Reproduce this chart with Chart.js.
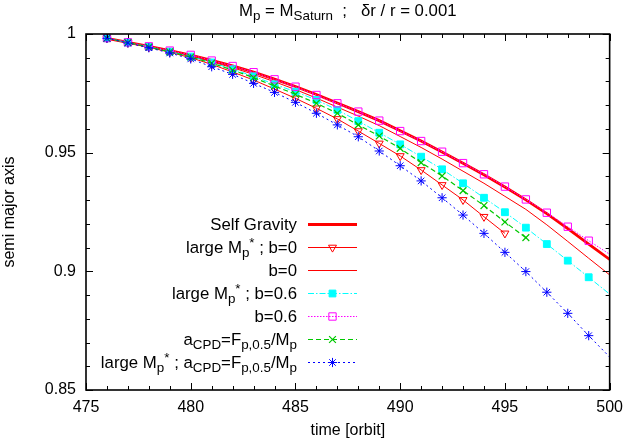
<!DOCTYPE html>
<html>
<head>
<meta charset="utf-8">
<script src="https://cdn.jsdelivr.net/npm/chart.js@4/dist/chart.umd.min.js"></script>
<style>
  html, body { margin: 0; padding: 0; background: #fff; }
  canvas { display: block; }
</style>
</head>
<body>
<canvas id="sma_chart" width="631" height="442" style="width:631px;height:442px"></canvas>
<script>
// orbit numbers (x) and semi major axis, one array per curve
const orbits = [476, 477, 478, 479, 480, 481, 482, 483, 484, 485, 486, 487, 488,
                489, 490, 491, 492, 493, 494, 495, 496, 497, 498, 499, 500];

const selfGravity = [0.9982, 0.9965, 0.9948, 0.9930, 0.9911, 0.9889, 0.9866, 0.9840, 0.9810, 0.9779,
                     0.9745, 0.9709, 0.9673, 0.9635, 0.9592, 0.9549, 0.9503, 0.9455, 0.9407, 0.9355,
                     0.9301, 0.9243, 0.9180, 0.9115, 0.9050];
const largeB0 = [0.9982, 0.9963, 0.9944, 0.9923, 0.9900, 0.9872, 0.9840, 0.9806, 0.9768, 0.9729,
                 0.9687, 0.9642, 0.9591, 0.9539, 0.9486, 0.9427, 0.9364, 0.9301, 0.9230, 0.9160];
const b0 = [0.9981, 0.9963, 0.9945, 0.9926, 0.9906, 0.9882, 0.9858, 0.9830, 0.9799, 0.9766,
            0.9730, 0.9692, 0.9654, 0.9614, 0.9568, 0.9522, 0.9473, 0.9422, 0.9371, 0.9316,
            0.9261, 0.9196, 0.9126, 0.9055, 0.8985];
const largeB06 = [0.9982, 0.9964, 0.9946, 0.9926, 0.9905, 0.9880, 0.9852, 0.9822, 0.9788, 0.9757,
                  0.9722, 0.9680, 0.9633, 0.9584, 0.9535, 0.9483, 0.9430, 0.9371, 0.9310, 0.9249,
                  0.9184, 0.9115, 0.9045, 0.8975, 0.8904];
const b06 = [0.9983, 0.9965, 0.9948, 0.9930, 0.9912, 0.9888, 0.9865, 0.9839, 0.9809, 0.9778,
             0.9743, 0.9708, 0.9673, 0.9635, 0.9591, 0.9549, 0.9504, 0.9456, 0.9409, 0.9357,
             0.9303, 0.9247, 0.9188, 0.9129, 0.9072];
const aCPD = [0.9982, 0.9964, 0.9945, 0.9925, 0.9903, 0.9877, 0.9848, 0.9816, 0.9781, 0.9746,
              0.9708, 0.9666, 0.9617, 0.9570, 0.9518, 0.9458, 0.9402, 0.9340, 0.9277, 0.9208,
              0.9142];
const largeACPD = [0.9982, 0.9962, 0.9942, 0.9920, 0.9895, 0.9862, 0.9830, 0.9792, 0.9754, 0.9712,
                   0.9666, 0.9617, 0.9567, 0.9507, 0.9445, 0.9381, 0.9310, 0.9237, 0.9160, 0.9080,
                   0.8999, 0.8912, 0.8823, 0.8729, 0.8639];

// axis ranges and labelled ticks
const xRange = [475, 500];
const yRange = [0.85, 1];
const xLabelled = [475, 480, 485, 490, 495, 500];
const yLabelled = ['0.85', '0.9', '0.95', '1'];

// legend / title texts, [text, 'sub'|'sup'] pieces
const titleParts = [['M'], ['p', 'sub'], [' = M'], ['Saturn', 'sub'], ['  ;   \u03b4r / r = 0.001']];
const legendParts = [
    [['Self Gravity']],
    [['large M'], ['p', 'sub'], ['*', 'sup'], [' ; b=0']],
    [['b=0']],
    [['large M'], ['p', 'sub'], ['*', 'sup'], [' ; b=0.6']],
    [['b=0.6']],
    [['a'], ['CPD', 'sub'], ['=F'], ['p,0.5', 'sub'], ['/M'], ['p', 'sub']],
    [['large M'], ['p', 'sub'], ['*', 'sup'], [' ; a'], ['CPD', 'sub'], ['=F'], ['p,0.5', 'sub'], ['/M'], ['p', 'sub']]
];

const FONT = '"Liberation Sans", Arial, Helvetica, sans-serif';
const TICK = 16, MAIN = 16.8, SMALL = 13.4;

function toPoints(values) {
    return values.map((v, i) => ({x: orbits[i], y: v}));
}

// markers sitting on the right border are not drawn (as in gnuplot output)
function radius(r) {
    return ctx => (ctx.raw && ctx.raw.x >= xRange[1]) ? 0 : r;
}

function richWidth(ctx, parts) {
    let w = 0;
    parts.forEach(p => {
        ctx.font = (p[1] ? SMALL : MAIN) + 'px ' + FONT;
        w += ctx.measureText(p[0]).width;
    });
    return w;
}

function drawRich(ctx, parts, x, baseline) {
    ctx.textAlign = 'left';
    ctx.textBaseline = 'alphabetic';
    parts.forEach(p => {
        ctx.font = (p[1] ? SMALL : MAIN) + 'px ' + FONT;
        let y = baseline;
        if (p[1] === 'sub') y += 4;
        if (p[1] === 'sup') y -= 6;
        ctx.fillText(p[0], x, y);
        x += ctx.measureText(p[0]).width;
    });
}

const datasets = [
    {label: 'Self Gravity', data: toPoints(selfGravity), borderColor: '#ff0000', borderWidth: 2.8,
     pointRadius: 0, legendRadius: 0},
    {label: 'large Mp* ; b=0', data: toPoints(largeB0), borderColor: '#ff0000', borderWidth: 1,
     pointStyle: 'triangle', pointRotation: 180, pointRadius: radius(4.6), legendRadius: 4.6,
     pointBackgroundColor: 'rgba(0,0,0,0)', pointBorderColor: '#ff0000', pointBorderWidth: 1},
    {label: 'b=0', data: toPoints(b0), borderColor: '#ff0000', borderWidth: 1,
     pointRadius: 0, legendRadius: 0},
    {label: 'large Mp* ; b=0.6', data: toPoints(largeB06), borderColor: '#00ffff', borderWidth: 1,
     borderDash: [6, 2, 1.5, 2], pointStyle: 'rect', pointRadius: radius(4.8), legendRadius: 4.8,
     pointBackgroundColor: '#00ffff', pointBorderColor: '#00ffff', pointBorderWidth: 1},
    {label: 'b=0.6', data: toPoints(b06), borderColor: '#ff00ff', borderWidth: 1,
     borderDash: [1.5, 1.5], pointStyle: 'rect', pointRadius: radius(5.2), legendRadius: 5.2,
     pointBackgroundColor: 'rgba(0,0,0,0)', pointBorderColor: '#ff00ff', pointBorderWidth: 1},
    {label: 'aCPD=Fp,0.5/Mp', data: toPoints(aCPD), borderColor: 'rgb(0,200,0)', borderWidth: 1.2,
     borderDash: [5, 3], pointStyle: 'crossRot', pointRadius: radius(4.8), legendRadius: 4.8,
     pointBackgroundColor: 'rgb(0,200,0)', pointBorderColor: 'rgb(0,200,0)', pointBorderWidth: 1.2},
    {label: 'large Mp* ; aCPD=Fp,0.5/Mp', data: toPoints(largeACPD), borderColor: '#0000ff', borderWidth: 1,
     borderDash: [2, 3], pointStyle: 'star', pointRadius: radius(4.6), legendRadius: 4.6,
     pointBackgroundColor: '#0000ff', pointBorderColor: '#0000ff', pointBorderWidth: 1}
];
// later curves drawn on top
datasets.forEach((d, i) => {
    d.order = datasets.length - i;
    d.showLine = true;
    d.fill = false;
    d.tension = 0;
});

// frame, inward ticks on all four sides, title and legend
const gnuplotLook = {
    id: 'gnuplotLook',
    afterDraw(chart) {
        const ctx = chart.ctx;
        const area = chart.chartArea;
        const xs = chart.scales.x, ys = chart.scales.y;
        ctx.save();
        ctx.strokeStyle = '#000';
        ctx.lineWidth = 1;
        ctx.setLineDash([]);
        ctx.beginPath();
        xs.ticks.forEach(t => {
            const px = Math.round(xs.getPixelForValue(t.value)) + 0.5;
            const len = xLabelled.includes(Math.round(t.value)) ? 7 : 4;
            ctx.moveTo(px, area.bottom); ctx.lineTo(px, area.bottom - len);
            ctx.moveTo(px, area.top); ctx.lineTo(px, area.top + len);
        });
        ys.ticks.forEach(t => {
            const py = Math.round(ys.getPixelForValue(t.value)) + 0.5;
            const len = Math.round(t.value * 100) % 5 === 0 ? 7 : 4;
            ctx.moveTo(area.left, py); ctx.lineTo(area.left + len, py);
            ctx.moveTo(area.right, py); ctx.lineTo(area.right - len, py);
        });
        ctx.stroke();
        ctx.lineWidth = 1.6;
        ctx.strokeRect(area.left, area.top, area.right - area.left, area.bottom - area.top);

        ctx.fillStyle = '#000';
        const tw = richWidth(ctx, titleParts);
        drawRich(ctx, titleParts, (area.left + area.right) / 2 - tw / 2, 16);

        const textRight = area.left + 211;
        const lineStart = area.left + 222, lineEnd = area.left + 271;
        const markX = (lineStart + lineEnd) / 2;
        legendParts.forEach((parts, i) => {
            const rowY = area.top + 190 + i * 23;
            const w = richWidth(ctx, parts);
            ctx.fillStyle = '#000';
            drawRich(ctx, parts, textRight - w, rowY + 5.5);
            const d = datasets[i];
            ctx.strokeStyle = d.borderColor;
            ctx.lineWidth = d.borderWidth;
            ctx.setLineDash(d.borderDash || []);
            ctx.beginPath();
            ctx.moveTo(lineStart, rowY + 0.5);
            ctx.lineTo(lineEnd, rowY + 0.5);
            ctx.stroke();
            ctx.setLineDash([]);
            if (d.legendRadius > 0 && Chart.helpers && Chart.helpers.drawPoint) {
                ctx.fillStyle = d.pointBackgroundColor;
                ctx.strokeStyle = d.pointBorderColor;
                ctx.lineWidth = d.pointBorderWidth;
                Chart.helpers.drawPoint(ctx, {
                    pointStyle: d.pointStyle, rotation: d.pointRotation || 0,
                    radius: d.legendRadius, borderWidth: d.pointBorderWidth
                }, markX, rowY + 0.5);
            }
        });
        ctx.restore();
    }
};

const config = {
    type: 'scatter',
    data: {datasets: datasets},
    options: {
        animation: false,
        responsive: false,
        devicePixelRatio: 1,
        layout: {padding: {top: 34, right: 16, left: 0, bottom: 0}},
        plugins: {legend: {display: false}, tooltip: {enabled: false}, title: {display: false}},
        scales: {
            x: {
                type: 'linear',
                min: xRange[0],
                max: xRange[1],
                afterFit: s => { s.height = 52; },
                grid: {display: false, drawTicks: false},
                border: {display: false},
                ticks: {
                    stepSize: 1, autoSkip: false, maxRotation: 0, padding: 8,
                    color: '#000', font: {family: FONT, size: TICK},
                    callback: v => xLabelled.includes(Math.round(v)) ? String(Math.round(v)) : ''
                },
                title: {display: true, text: 'time [orbit]', color: '#000',
                        font: {family: FONT, size: TICK}, padding: {top: 0, bottom: 2}}
            },
            y: {
                type: 'linear',
                min: yRange[0],
                max: yRange[1],
                afterFit: s => { s.width = 86; },
                grid: {display: false, drawTicks: false},
                border: {display: false},
                ticks: {
                    stepSize: 0.01, autoSkip: false, padding: 10,
                    color: '#000', font: {family: FONT, size: TICK},
                    callback: v => {
                        const s = String(Math.round(v * 100) / 100);
                        return yLabelled.includes(s) ? s : '';
                    }
                },
                title: {display: true, text: 'semi major axis', color: '#000',
                        font: {family: FONT, size: TICK}, padding: {top: 0, bottom: 0}}
            }
        }
    },
    plugins: [gnuplotLook]
};

const chart = new Chart(document.getElementById('sma_chart'), config);
</script>
</body>
</html>
